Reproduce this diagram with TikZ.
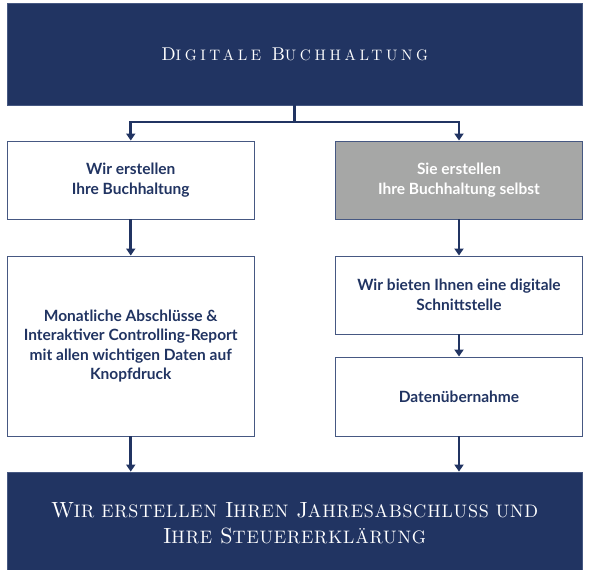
\documentclass[tikz,border=0pt]{standalone}
\usepackage{fontspec}
\newfontfamily\boxfont{Lato}
\newfontfamily\kopffont{lmroman10-regular.otf}[LetterSpace=24]
\newfontfamily\kopfklein{lmroman10-regular.otf}[Scale=0.82,LetterSpace=24]
\newfontfamily\fussfont{lmroman10-regular.otf}[LetterSpace=4.5]
\newfontfamily\fussklein{lmroman10-regular.otf}[Scale=0.82,LetterSpace=4.5]
\newcommand\kopfkap[2]{#1{\kopfklein #2}}
\newcommand\fusskap[2]{#1{\fussklein #2}}
\usepackage{tikz}
\usetikzlibrary{arrows.meta}

\definecolor{navy}{RGB}{33,52,98}
\definecolor{boxgray}{RGB}{166,167,166}
\definecolor{edge}{RGB}{70,88,130}

\tikzset{
  headbox/.style={fill=navy,draw=edge,line width=0.8pt,text=white,inner sep=0pt,align=center},
  stepbox/.style={draw=edge,line width=0.9pt,fill=white,text=navy,inner sep=0pt,align=center,
    minimum width=246.5pt,font=\boxfont\bfseries\fontsize{15.5}{19.5}\selectfont},
  link/.style={navy,line width=2.6pt,-{Triangle[width=9pt,length=7pt]}}
}

\begin{document}
\begin{tikzpicture}[x=1pt,y=1pt,yscale=-1]
        \useasboundingbox (0,0) rectangle (595,570);

        \node [headbox,minimum width=574.5pt,minimum height=102pt,
               font=\kopffont\fontsize{18.5}{26}\selectfont] (titel) at (294.75,54)
               {\kopfkap{D}{IGITALE} \kopfkap{B}{UCHHALTUNG}};
        \node [stepbox,minimum height=78pt] (wir) at (130.75,180) {Wir erstellen\\Ihre Buchhaltung};
        \node [stepbox,minimum height=78pt,fill=boxgray,text=white] (sie) at (459,180) {Sie erstellen\\Ihre Buchhaltung selbst};
        \node [stepbox,minimum height=180pt] (monat) at (130.75,346) {Monatliche Abschlüsse \&\\Interaktiver Controlling-Report\\mit allen wichtigen Daten auf\\Knopfdruck};
        \node [stepbox,minimum height=78pt] (bieten) at (459,295) {Wir bieten Ihnen eine digitale\\Schnittstelle};
        \node [stepbox,minimum height=79pt] (daten) at (459,396.5) {Datenübernahme};
        \node [headbox,minimum width=574.5pt,minimum height=103pt,
               font=\fussfont\fontsize{22}{26}\selectfont] (jahr) at (294.75,523.5)
               {\fusskap{W}{IR ERSTELLEN} \fusskap{I}{HREN} \fusskap{J}{AHRESABSCHLUSS UND}\\
                \fusskap{I}{HRE} \fusskap{S}{TEUERERKLÄRUNG}};

        \coordinate (gabel) at (294.75,122);
        \draw [navy,line width=2.6pt] (titel.south) -- (gabel);
        \draw [link] (gabel) -| (wir.north);
        \draw [link] (gabel) -| (sie.north);
        \draw [link] (wir) -- (monat);
        \draw [link] (sie) -- (bieten);
        \draw [link] (bieten) -- (daten);
        \draw [link] (monat.south) -- (jahr.north -| monat.south);
        \draw [link] (daten.south) -- (jahr.north -| daten.south);
    \end{tikzpicture}
\end{document}
